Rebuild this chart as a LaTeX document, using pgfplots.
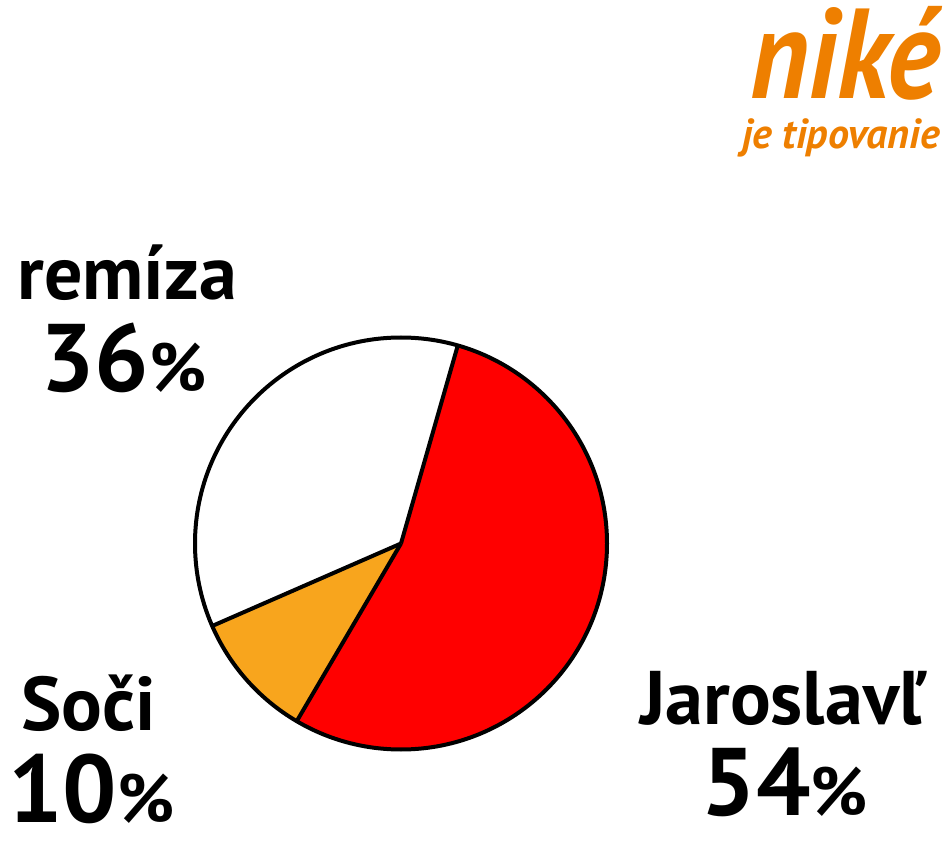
\documentclass[border=0pt]{standalone}
\usepackage{fontspec}
\setmainfont{PT Sans}
\usepackage{pgfplots}
\usepackage{pgfplotstable}
\pgfplotsset{compat=1.18}
\definecolor{slicered}{HTML}{FF0000}
\definecolor{sliceorange}{HTML}{F8A51D}
\definecolor{nikeorange}{HTML}{EE7F00}
\pgfplotstableread{
label value
Jaroslavl 54
Soci 10
remiza 36
}\piedata
\begin{document}
\begin{tikzpicture}
\pgfplotstablegetelem{0}{value}\of\piedata \let\vA\pgfplotsretval
\pgfplotstablegetelem{1}{value}\of\piedata \let\vB\pgfplotsretval
\pgfplotstablegetelem{2}{value}\of\piedata \let\vC\pgfplotsretval
\pgfmathsetmacro{\aO}{74}
\pgfmathsetmacro{\aA}{\aO-3.6*\vA}
\pgfmathsetmacro{\aB}{\aA-3.6*\vB}
\pgfmathsetmacro{\aC}{\aB-3.6*\vC}
\begin{axis}[
  x=0.5pt, y=0.5pt, xmin=0, xmax=948, ymin=0, ymax=847,
  hide axis, clip=false, scale only axis,
]
\path (axis cs:0,0) rectangle (axis cs:948,847);
% slices
\fill[slicered] (axis cs:401,303.5) -- ++(\aO:103pt) arc[start angle=\aO, end angle=\aA, radius=103pt] -- cycle;
\fill[sliceorange] (axis cs:401,303.5) -- ++(\aA:103pt) arc[start angle=\aA, end angle=\aB, radius=103pt] -- cycle;
\fill[white] (axis cs:401,303.5) -- ++(\aB:103pt) arc[start angle=\aB, end angle=\aC, radius=103pt] -- cycle;
\draw[black, line width=2pt, line join=round] (axis cs:401,303.5) -- ++(\aO:103pt);
\draw[black, line width=2pt, line join=round] (axis cs:401,303.5) -- ++(\aA:103pt);
\draw[black, line width=2pt, line join=round] (axis cs:401,303.5) -- ++(\aB:103pt);
\draw[black, line width=2pt] (axis cs:401,303.5) circle[radius=103pt];
% labels
\node[anchor=base west, inner sep=0pt, font=\fontsize{38}{40}\selectfont\bfseries] at (axis cs:17,547) {remíza};
\node[anchor=base west, inner sep=0pt, font=\fontsize{48}{50}\selectfont\bfseries] at (axis cs:40,455) {36{\fontsize{34}{36}\selectfont\%}};
\node[anchor=base west, inner sep=0pt, font=\fontsize{38}{40}\selectfont\bfseries] at (axis cs:21,117) {Soči};
\node[anchor=base west, inner sep=0pt, font=\fontsize{48}{50}\selectfont\bfseries] at (axis cs:8,25) {10{\fontsize{34}{36}\selectfont\%}};
\node[anchor=base east, inner sep=0pt, font=\fontsize{38}{40}\selectfont\bfseries] at (axis cs:922,123) {Jaroslavľ};
\node[anchor=base east, inner sep=0pt, font=\fontsize{48}{50}\selectfont\bfseries] at (axis cs:868,32) {54{\fontsize{34}{36}\selectfont\%}};
% logo
\node[anchor=base east, inner sep=0pt, xscale=0.88, text=nikeorange, font=\fontsize{64}{66}\selectfont\bfseries\itshape] at (axis cs:940,748) {niké};
\node[anchor=base east, inner sep=0pt, text=nikeorange, font=\fontsize{21}{22}\selectfont\bfseries\itshape] at (axis cs:940,698) {je tipovanie};
\end{axis}
\end{tikzpicture}
\end{document}
